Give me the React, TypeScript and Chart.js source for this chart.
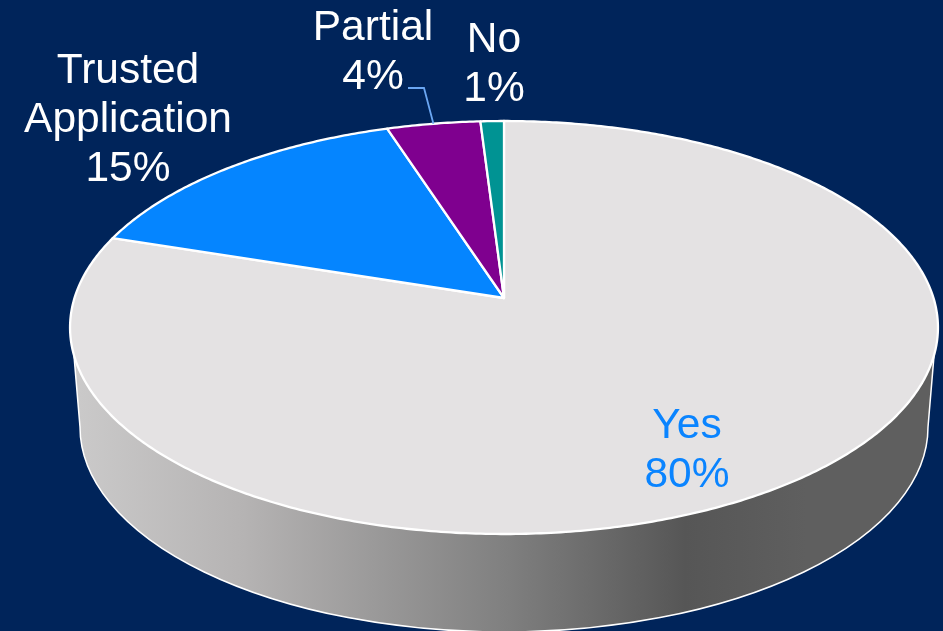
import React, { useEffect, useRef } from "react";
import { Chart, registerables } from "chart.js";

Chart.register(...registerables);

// Shares of responses, clockwise from twelve o'clock.
const categories = ["Yes", "Trusted Application", "Partial", "No"];
const shares = [80, 15, 4, 1];
const sliceColors = ["#e4e2e3", "#0585ff", "#7f008f", "#009393"];

// Label layout: wrapped name lines, horizontal centre and first baseline.
const labelLines = [["Yes"], ["Trusted", "Application"], ["Partial"], ["No"]];
const labelColors = ["#0a84ff", "#ffffff", "#ffffff", "#ffffff"];
const labelCentres = [687, 128, 373, 494];
const labelBaselines = [438, 83, 40, 52];
const LINE_HEIGHT = 49;
const LABEL_FONT = '42.5px "Liberation Sans", Arial, sans-serif';

const BACKGROUND = "#00245a";
const RIM = "#ffffff";
const LEADER = "#6aa6f2";

// Tilted disc: a projective map taking the unit circle to the top face.
const APEX_X = 504;
const APEX_Y = 298;
const SPREAD_X = 429.5;
const TILT_C = -0.1429;
const TILT_A = 159.7;

function project(angle: number): [number, number] {
  const u = Math.cos(angle);
  const v = Math.sin(angle);
  const w = 1 + TILT_C * v;
  return [APEX_X + (SPREAD_X * u) / w, (TILT_A * v + APEX_Y) / w];
}

// Lower rim of the extruded side wall.
const BASE_X = 504;
const BASE_Y = 427;
const BASE_RX = 424;
const BASE_RY = 205;

function drawWall(ctx: CanvasRenderingContext2D) {
  const path = new Path2D();
  const right = project(0.09);
  path.moveTo(right[0], right[1]);
  path.lineTo(BASE_X + BASE_RX, BASE_Y);
  path.ellipse(BASE_X, BASE_Y, BASE_RX, BASE_RY, 0, 0, Math.PI);
  const left = project(Math.PI - 0.09);
  path.lineTo(left[0], left[1]);

  const fill = ctx.createLinearGradient(72, 0, 936, 0);
  fill.addColorStop(0, "#cbcaca");
  fill.addColorStop(0.2, "#b5b3b3");
  fill.addColorStop(0.5, "#808080");
  fill.addColorStop(0.71, "#565656");
  fill.addColorStop(0.85, "#5f5f5f");
  fill.addColorStop(1, "#5f5f5f");

  ctx.save();
  ctx.fillStyle = fill;
  ctx.fill(path);
  ctx.strokeStyle = RIM;
  ctx.lineWidth = 1.5;
  ctx.stroke(path);
  ctx.restore();
}

function drawSlice(
  ctx: CanvasRenderingContext2D,
  start: number,
  end: number,
  color: string,
) {
  const steps = Math.max(4, Math.ceil((end - start) / 0.01));
  ctx.beginPath();
  ctx.moveTo(APEX_X, APEX_Y);
  for (let i = 0; i <= steps; i++) {
    const [x, y] = project(start + ((end - start) * i) / steps);
    ctx.lineTo(x, y);
  }
  ctx.closePath();
  ctx.fillStyle = color;
  ctx.fill();
  ctx.strokeStyle = RIM;
  ctx.lineWidth = 2.3;
  ctx.lineJoin = "round";
  ctx.stroke();
}

const tiltedPie = {
  id: "tiltedPie",
  beforeDraw(chart: Chart) {
    const { ctx, width, height } = chart;
    ctx.save();
    ctx.fillStyle = BACKGROUND;
    ctx.fillRect(0, 0, width, height);
    ctx.restore();
  },
  beforeDatasetDraw(chart: Chart) {
    const { ctx } = chart;
    drawWall(ctx);
    ctx.save();
    chart.getDatasetMeta(0).data.forEach((el: any, i: number) => {
      drawSlice(ctx, el.startAngle, el.endAngle, sliceColors[i]);
    });
    ctx.restore();
    return false;
  },
  afterDatasetsDraw(chart: Chart) {
    const { ctx } = chart;
    const arcs = chart.getDatasetMeta(0).data as any[];

    // Leader from the "Partial" label to the middle of its slice.
    const partial = arcs[2];
    const [tipX, tipY] = project((partial.startAngle + partial.endAngle) / 2);
    ctx.save();
    ctx.strokeStyle = LEADER;
    ctx.lineWidth = 1.8;
    ctx.beginPath();
    ctx.moveTo(408, 88);
    ctx.lineTo(424, 88);
    ctx.lineTo(tipX, tipY);
    ctx.stroke();

    ctx.font = LABEL_FONT;
    ctx.textAlign = "center";
    ctx.textBaseline = "alphabetic";
    categories.forEach((_, i) => {
      const lines = [...labelLines[i], `${shares[i]}%`];
      ctx.fillStyle = labelColors[i];
      lines.forEach((line, n) => {
        ctx.fillText(line, labelCentres[i], labelBaselines[i] + n * LINE_HEIGHT);
      });
    });
    ctx.restore();
  },
};

export default function App() {
  const canvasRef = useRef<HTMLCanvasElement>(null);

  useEffect(() => {
    const chart = new Chart(canvasRef.current!, {
      type: "pie",
      data: {
        labels: categories,
        datasets: [{ data: shares, backgroundColor: sliceColors }],
      },
      options: {
        animation: false,
        responsive: false,
        plugins: {
          legend: { display: false },
          tooltip: { enabled: false },
        },
      },
      plugins: [tiltedPie],
    });
    return () => chart.destroy();
  }, []);

  return (
    <canvas
      ref={canvasRef}
      width={943}
      height={631}
      style={{ position: "fixed", left: 0, top: 0, display: "block" }}
    />
  );
}
